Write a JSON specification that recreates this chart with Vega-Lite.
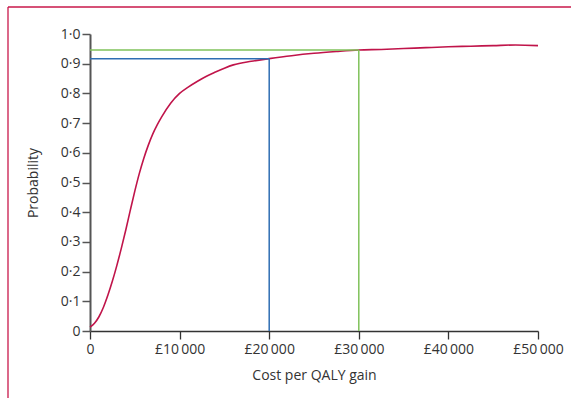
{
  "$schema": "https://vega.github.io/schema/vega-lite/v6.json",
  "autosize": "none",
  "padding": {"left": 90, "top": 34, "right": 33, "bottom": 67},
  "width": 448,
  "height": 297,
  "background": "white",
  "config": {
    "view": {"stroke": null},
    "font": "Open Sans"
  },
  "datasets": {
    "curve": [
      {"cost": 0, "p": 0.013},
      {"cost": 500, "p": 0.026},
      {"cost": 1000, "p": 0.048},
      {"cost": 1500, "p": 0.08},
      {"cost": 2000, "p": 0.121},
      {"cost": 2500, "p": 0.168},
      {"cost": 3000, "p": 0.221},
      {"cost": 3500, "p": 0.279},
      {"cost": 4000, "p": 0.341},
      {"cost": 4500, "p": 0.407},
      {"cost": 5000, "p": 0.471},
      {"cost": 5500, "p": 0.53},
      {"cost": 6000, "p": 0.581},
      {"cost": 6500, "p": 0.625},
      {"cost": 7000, "p": 0.663},
      {"cost": 7500, "p": 0.694},
      {"cost": 8000, "p": 0.721},
      {"cost": 9000, "p": 0.767},
      {"cost": 10000, "p": 0.8},
      {"cost": 11000, "p": 0.822},
      {"cost": 12000, "p": 0.841},
      {"cost": 13000, "p": 0.858},
      {"cost": 14000, "p": 0.872},
      {"cost": 15000, "p": 0.885},
      {"cost": 16000, "p": 0.896},
      {"cost": 18000, "p": 0.908},
      {"cost": 20000, "p": 0.917},
      {"cost": 22500, "p": 0.927},
      {"cost": 25000, "p": 0.935},
      {"cost": 27500, "p": 0.941},
      {"cost": 30000, "p": 0.946},
      {"cost": 32500, "p": 0.948},
      {"cost": 35000, "p": 0.951},
      {"cost": 37500, "p": 0.954},
      {"cost": 40000, "p": 0.957},
      {"cost": 42500, "p": 0.959},
      {"cost": 45000, "p": 0.961},
      {"cost": 47500, "p": 0.963},
      {"cost": 50000, "p": 0.961}
    ],
    "refs": [
      {"x": 0, "x2": 20000, "y": 0.917, "y2": 0.917, "line": "£20 000 threshold"},
      {"x": 20000, "x2": 20000, "y": 0, "y2": 0.917, "line": "£20 000 threshold"},
      {"x": 0, "x2": 30000, "y": 0.946, "y2": 0.946, "line": "£30 000 threshold"},
      {"x": 30000, "x2": 30000, "y": 0, "y2": 0.946, "line": "£30 000 threshold"}
    ]
  },
  "layer": [
    {
      "data": {"name": "curve"},
      "mark": {"type": "line", "color": "#c0144a", "strokeWidth": 1.6, "interpolate": "monotone"},
      "encoding": {
        "x": {
          "field": "cost",
          "type": "quantitative",
          "scale": {"domain": [0, 50000], "nice": false},
          "axis": {
            "title": "Cost per QALY gain",
            "values": [0, 10000, 20000, 30000, 40000, 50000],
            "tickCount": 20,
            "labelExpr": "datum.value == 0 ? '0' : '£' + replace(format(datum.value, ','), ',', '\u2009')",
            "grid": false,
            "domainColor": "#333333",
            "domainWidth": 1.3,
            "tickColor": "#333333",
            "tickWidth": 1.3,
            "tickSize": 8,
            "labelFontSize": 14,
            "labelColor": "#333333",
            "labelPadding": 3,
            "labelFlush": false,
            "labelOverlap": false,
            "titleFontSize": 14,
            "titleFontWeight": "normal",
            "titleColor": "#333333",
            "titlePadding": 12
          }
        },
        "y": {
          "field": "p",
          "type": "quantitative",
          "scale": {"domain": [0, 1], "nice": false},
          "axis": {
            "title": "Probability",
            "values": [0, 0.1, 0.2, 0.3, 0.4, 0.5, 0.6, 0.7, 0.8, 0.9, 1],
            "tickCount": 20,
            "labelExpr": "datum.value == 0 ? '0' : replace(format(datum.value, '.1f'), '.', '·')",
            "grid": false,
            "domainColor": "#555555",
            "domainWidth": 2,
            "tickColor": "#555555",
            "tickWidth": 1.5,
            "tickSize": 8,
            "labelFontSize": 14,
            "labelColor": "#333333",
            "labelPadding": 2,
            "labelFlush": false,
            "labelOverlap": false,
            "titleFontSize": 14,
            "titleFontWeight": "normal",
            "titleColor": "#333333",
            "titlePadding": 20
          }
        }
      }
    },
    {
      "data": {"name": "refs"},
      "mark": {"type": "rule", "strokeWidth": 1.5},
      "encoding": {
        "x": {"field": "x", "type": "quantitative"},
        "x2": {"field": "x2"},
        "y": {"field": "y", "type": "quantitative"},
        "y2": {"field": "y2"},
        "color": {
          "field": "line",
          "type": "nominal",
          "scale": {"domain": ["£20 000 threshold", "£30 000 threshold"], "range": ["#2e6db3", "#7fc25a"]},
          "legend": null
        }
      }
    },
    {
      "data": {"values": [{"frame": "left"}]},
      "mark": {"type": "rule", "color": "#c8174a", "strokeWidth": 1.3, "clip": false},
      "encoding": {
        "x": {"datum": -9152, "type": "quantitative"},
        "y": {"datum": 1.0909, "type": "quantitative"},
        "y2": {"datum": -0.26}
      }
    },
    {
      "data": {"values": [{"frame": "top"}]},
      "mark": {"type": "rule", "color": "#c8174a", "strokeWidth": 1.3, "clip": false},
      "encoding": {
        "x": {"datum": -9152, "type": "quantitative"},
        "x2": {"datum": 56000},
        "y": {"datum": 1.0909, "type": "quantitative"}
      }
    }
  ]
}
